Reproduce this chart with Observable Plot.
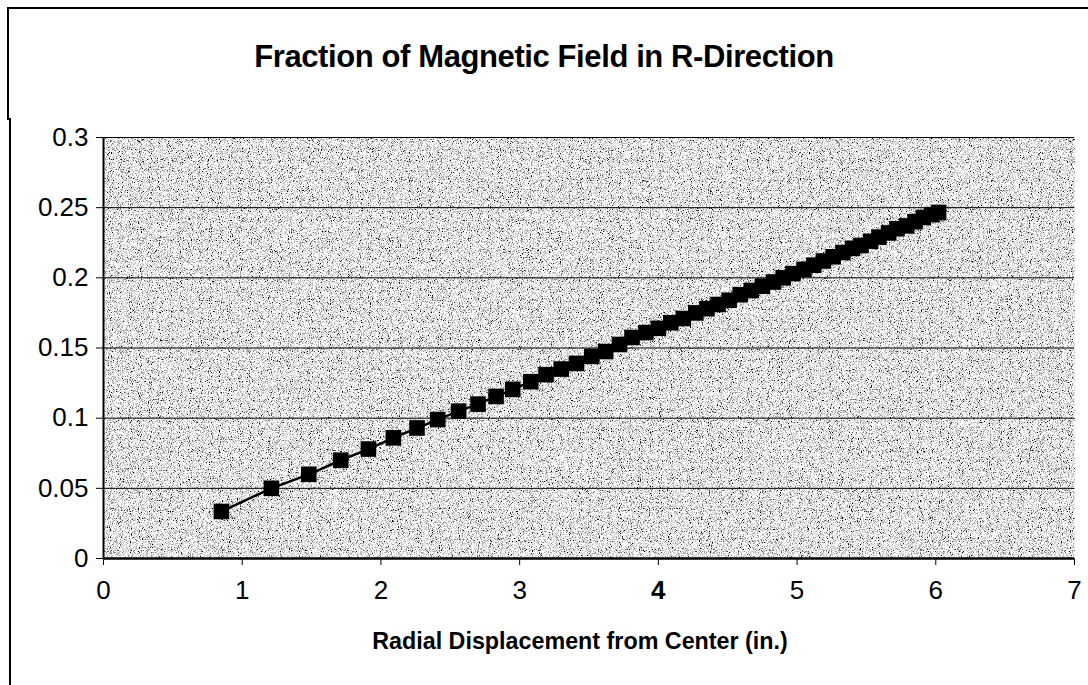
<!DOCTYPE html>
<html>
<head>
<meta charset="utf-8">
<script src="https://cdn.jsdelivr.net/npm/d3@7"></script>
<script src="https://cdn.jsdelivr.net/npm/@observablehq/plot@0.6"></script>
<style>
  html, body { margin: 0; padding: 0; background: #fff; overflow: hidden; }
  #page { position: relative; width: 1088px; height: 685px; overflow: hidden; background: #fff;
          font-family: "Liberation Sans", Arial, sans-serif; }
  #border { position: absolute; left: 7px; top: 7px; width: 1400px; height: 111px;
            border-top: 2px solid #000; border-left: 2px solid #000; }
  #border2 { position: absolute; left: 9px; top: 118px; width: 1px; height: 700px;
            border-left: 2px solid #000; }
  #title { position: absolute; left: 0; width: 1088px; top: 39px; text-align: center;
           font-weight: bold; font-size: 31px; line-height: 36px; color: #000; letter-spacing: -0.4px; }
  #xlabel { position: absolute; left: 480px; width: 200px; top: 627px; text-align: center;
            font-weight: bold; font-size: 23.3px; line-height: 28px; color: #000; white-space: nowrap; }
  #xlabel span { display: inline-block; transform: translateX(-50%); margin-left: 100px; }
  #chart { position: absolute; left: 0; top: 100px; }
</style>
</head>
<body>
<div id="page">
  <div id="border"></div>
  <div id="border2"></div>
  <div id="title">Fraction of Magnetic Field in R-Direction</div>
  <div id="chart"></div>
  <div id="xlabel"><span>Radial Displacement from Center (in.)</span></div>
</div>
<script>
// Tick values
const xTicks = [0, 1, 2, 3, 4, 5, 6, 7];
const yTicks = [0, 0.05, 0.1, 0.15, 0.2, 0.25, 0.3];

// Radial displacement (in.)
const radius = [0.85, 1.21, 1.48, 1.71, 1.91, 2.09, 2.26, 2.41, 2.56, 2.70,
                2.83, 2.95, 3.08, 3.19, 3.30, 3.41, 3.52, 3.62, 3.72, 3.81,
                3.91, 4.00, 4.09, 4.18, 4.27, 4.35, 4.43, 4.51, 4.59, 4.67,
                4.75, 4.83, 4.90, 4.97, 5.05, 5.12, 5.19, 5.26, 5.33, 5.40,
                5.46, 5.53, 5.59, 5.66, 5.72, 5.79, 5.85, 5.91, 5.97, 6.02];
// Fraction of field in R-direction
const fraction = [0.0335, 0.050, 0.060, 0.070, 0.078, 0.086, 0.093, 0.099, 0.105, 0.110,
                  0.1155, 0.1205, 0.126, 0.131, 0.135, 0.139, 0.144, 0.1475, 0.1525, 0.1575,
                  0.161, 0.164, 0.168, 0.171, 0.175, 0.178, 0.181, 0.184, 0.188, 0.191,
                  0.194, 0.197, 0.200, 0.203, 0.206, 0.209, 0.212, 0.215, 0.218, 0.221,
                  0.223, 0.226, 0.229, 0.232, 0.235, 0.237, 0.240, 0.243, 0.245, 0.2466];

const data = radius.map((r, i) => ({r, f: fraction[i]}));

const chart = Plot.plot({
  width: 1088,
  height: 520,
  marginLeft: 103,
  marginRight: 14,
  marginTop: 37,
  marginBottom: 62,
  style: {background: "transparent", fontFamily: "Liberation Sans, Arial, sans-serif", fontSize: "26px", color: "#000", overflow: "visible"},
  x: {domain: [0, 7], ticks: xTicks, tickSize: 7, tickPadding: 15, label: null, tickFormat: d => String(d)},
  y: {domain: [0, 0.3], ticks: yTicks, tickSize: 7, tickPadding: 8, label: null, tickFormat: d => String(+d.toFixed(2))},
  marks: [
    Plot.frame({fill: "#c4c4c4", stroke: "#555", strokeWidth: 0.6}),
    Plot.ruleY(yTicks.slice(1), {stroke: "#000", strokeWidth: 1}),
    Plot.ruleX([0], {stroke: "#000", strokeWidth: 2}),
    Plot.ruleY([0], {stroke: "#000", strokeWidth: 2.5}),
    Plot.line(data, {x: "r", y: "f", stroke: "#000", strokeWidth: 2.5}),
    Plot.dot(data, {x: "r", y: "f", symbol: "square", r: 8.8, fill: "#000", stroke: "none"})
  ]
});

// stipple texture for the plot area
const ns = "http://www.w3.org/2000/svg";
const defs = document.createElementNS(ns, "defs");
defs.innerHTML = `<filter id="stipple" x="0" y="0" width="100%" height="100%" filterUnits="objectBoundingBox">
  <feTurbulence type="fractalNoise" baseFrequency="1.1" numOctaves="2" seed="3" result="n"/>
  <feColorMatrix in="n" type="matrix" values="3.4 0 0 0 -0.85  3.4 0 0 0 -0.85  3.4 0 0 0 -0.85  0 0 0 0 1" result="g"/>
  <feComposite in="g" in2="SourceGraphic" operator="in"/>
</filter>`;
chart.insertBefore(defs, chart.firstChild);
const frame = chart.querySelector('[aria-label="frame"]');
if (frame) {
  const rect = frame.tagName.toLowerCase() === "rect" ? frame : frame.querySelector("rect");
  if (rect) rect.setAttribute("filter", "url(#stipple)");
}
// tick label font
chart.querySelectorAll("text").forEach(t => {
  t.setAttribute("font-size", "26");
  t.style.fontSize = "26px";
  t.style.fontFamily = "Liberation Sans, Arial, sans-serif";
  t.style.fill = "#000";
});
chart.querySelectorAll("g").forEach(g => {
  if (g.getAttribute("font-size")) g.setAttribute("font-size", "26");
});
// the "4" tick label appears bold in the reference
chart.querySelectorAll('[aria-label="x-axis"] text, [aria-label="x-axis tick label"] text').forEach(t => {
  if (t.textContent.trim() === "4") t.setAttribute("font-weight", "bold");
});
document.getElementById("chart").appendChild(chart);
</script>
</body>
</html>
